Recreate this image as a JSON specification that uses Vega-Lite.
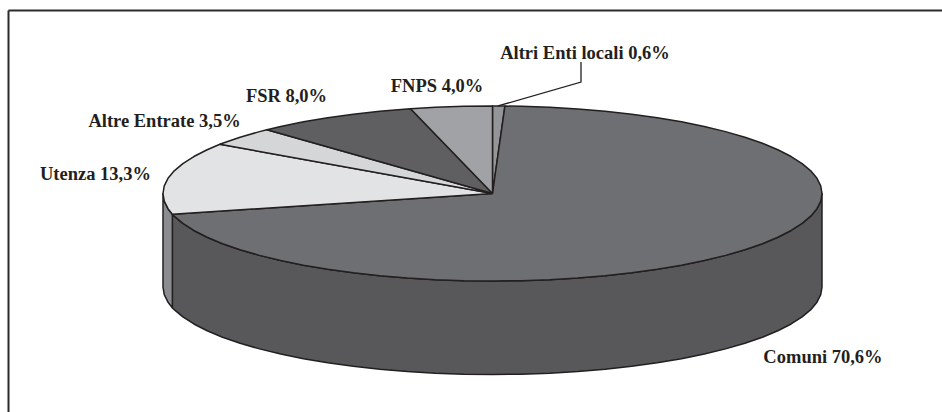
{
"$schema":"https://vega.github.io/schema/vega-lite/v6.json",
"width":934,"height":402,
"autosize":{"type":"none"},
"padding":{"left":8,"top":10,"right":0,"bottom":0},
"background":"#ffffff",
"config":{"view":{"stroke":null}},
"datasets":{
"walls":[
{"slice":"Comuni lato","x":1,"y":0,"y2":-1.0686},{"slice":"Comuni lato","x":0.9962,"y":-0.0872,"y2":-1.1558},{"slice":"Comuni lato","x":0.9848,"y":-0.1736,"y2":-1.2422},{"slice":"Comuni lato","x":0.9659,"y":-0.2588,"y2":-1.3274},{"slice":"Comuni lato","x":0.9397,"y":-0.342,"y2":-1.4106},{"slice":"Comuni lato","x":0.9063,"y":-0.4226,"y2":-1.4912},{"slice":"Comuni lato","x":0.866,"y":-0.5,"y2":-1.5686},{"slice":"Comuni lato","x":0.8192,"y":-0.5736,"y2":-1.6422},{"slice":"Comuni lato","x":0.766,"y":-0.6428,"y2":-1.7114},{"slice":"Comuni lato","x":0.7071,"y":-0.7071,"y2":-1.7757},{"slice":"Comuni lato","x":0.6428,"y":-0.766,"y2":-1.8346},{"slice":"Comuni lato","x":0.5736,"y":-0.8192,"y2":-1.8878},{"slice":"Comuni lato","x":0.5,"y":-0.866,"y2":-1.9346},{"slice":"Comuni lato","x":0.4226,"y":-0.9063,"y2":-1.9749},{"slice":"Comuni lato","x":0.342,"y":-0.9397,"y2":-2.0083},{"slice":"Comuni lato","x":0.2588,"y":-0.9659,"y2":-2.0345},{"slice":"Comuni lato","x":0.1736,"y":-0.9848,"y2":-2.0534},{"slice":"Comuni lato","x":0.0872,"y":-0.9962,"y2":-2.0648},{"slice":"Comuni lato","x":0,"y":-1,"y2":-2.0686},{"slice":"Comuni lato","x":-0.0872,"y":-0.9962,"y2":-2.0648},{"slice":"Comuni lato","x":-0.1736,"y":-0.9848,"y2":-2.0534},{"slice":"Comuni lato","x":-0.2588,"y":-0.9659,"y2":-2.0345},{"slice":"Comuni lato","x":-0.342,"y":-0.9397,"y2":-2.0083},{"slice":"Comuni lato","x":-0.4226,"y":-0.9063,"y2":-1.9749},{"slice":"Comuni lato","x":-0.5,"y":-0.866,"y2":-1.9346},{"slice":"Comuni lato","x":-0.5736,"y":-0.8192,"y2":-1.8878},{"slice":"Comuni lato","x":-0.6428,"y":-0.766,"y2":-1.8346},{"slice":"Comuni lato","x":-0.7071,"y":-0.7071,"y2":-1.7757},{"slice":"Comuni lato","x":-0.766,"y":-0.6428,"y2":-1.7114},{"slice":"Comuni lato","x":-0.8192,"y":-0.5736,"y2":-1.6422},{"slice":"Comuni lato","x":-0.866,"y":-0.5,"y2":-1.5686},{"slice":"Comuni lato","x":-0.9063,"y":-0.4226,"y2":-1.4912},{"slice":"Comuni lato","x":-0.9397,"y":-0.342,"y2":-1.4106},{"slice":"Comuni lato","x":-0.9659,"y":-0.2588,"y2":-1.3274},{"slice":"Comuni lato","x":-0.9716,"y":-0.2365,"y2":-1.3051},
{"slice":"Utenza lato","x":-0.9716,"y":-0.2365,"y2":-1.3051},{"slice":"Utenza lato","x":-0.9848,"y":-0.1736,"y2":-1.2422},{"slice":"Utenza lato","x":-0.9962,"y":-0.0872,"y2":-1.1558},{"slice":"Utenza lato","x":-1,"y":0,"y2":-1.0686}
],
"tops":[
{"slice":"Altri Enti locali","angle":-1,"x":0,"y":0},{"slice":"Altri Enti locali","angle":0,"x":0,"y":1},{"slice":"Altri Enti locali","angle":2.16,"x":0.0377,"y":0.9993},{"slice":"Altri Enti locali","angle":400,"x":0,"y":0},
{"slice":"Comuni","angle":-1,"x":0,"y":0},{"slice":"Comuni","angle":2.16,"x":0.0377,"y":0.9993},{"slice":"Comuni","angle":5,"x":0.0872,"y":0.9962},{"slice":"Comuni","angle":10,"x":0.1736,"y":0.9848},{"slice":"Comuni","angle":15,"x":0.2588,"y":0.9659},{"slice":"Comuni","angle":20,"x":0.342,"y":0.9397},{"slice":"Comuni","angle":25,"x":0.4226,"y":0.9063},{"slice":"Comuni","angle":30,"x":0.5,"y":0.866},{"slice":"Comuni","angle":35,"x":0.5736,"y":0.8192},{"slice":"Comuni","angle":40,"x":0.6428,"y":0.766},{"slice":"Comuni","angle":45,"x":0.7071,"y":0.7071},{"slice":"Comuni","angle":50,"x":0.766,"y":0.6428},{"slice":"Comuni","angle":55,"x":0.8192,"y":0.5736},{"slice":"Comuni","angle":60,"x":0.866,"y":0.5},{"slice":"Comuni","angle":65,"x":0.9063,"y":0.4226},{"slice":"Comuni","angle":70,"x":0.9397,"y":0.342},{"slice":"Comuni","angle":75,"x":0.9659,"y":0.2588},{"slice":"Comuni","angle":80,"x":0.9848,"y":0.1736},{"slice":"Comuni","angle":85,"x":0.9962,"y":0.0872},{"slice":"Comuni","angle":90,"x":1,"y":0},{"slice":"Comuni","angle":95,"x":0.9962,"y":-0.0872},{"slice":"Comuni","angle":100,"x":0.9848,"y":-0.1736},{"slice":"Comuni","angle":105,"x":0.9659,"y":-0.2588},{"slice":"Comuni","angle":110,"x":0.9397,"y":-0.342},{"slice":"Comuni","angle":115,"x":0.9063,"y":-0.4226},{"slice":"Comuni","angle":120,"x":0.866,"y":-0.5},{"slice":"Comuni","angle":125,"x":0.8192,"y":-0.5736},{"slice":"Comuni","angle":130,"x":0.766,"y":-0.6428},{"slice":"Comuni","angle":135,"x":0.7071,"y":-0.7071},{"slice":"Comuni","angle":140,"x":0.6428,"y":-0.766},{"slice":"Comuni","angle":145,"x":0.5736,"y":-0.8192},{"slice":"Comuni","angle":150,"x":0.5,"y":-0.866},{"slice":"Comuni","angle":155,"x":0.4226,"y":-0.9063},{"slice":"Comuni","angle":160,"x":0.342,"y":-0.9397},{"slice":"Comuni","angle":165,"x":0.2588,"y":-0.9659},{"slice":"Comuni","angle":170,"x":0.1736,"y":-0.9848},{"slice":"Comuni","angle":175,"x":0.0872,"y":-0.9962},{"slice":"Comuni","angle":180,"x":0,"y":-1},{"slice":"Comuni","angle":185,"x":-0.0872,"y":-0.9962},{"slice":"Comuni","angle":190,"x":-0.1736,"y":-0.9848},{"slice":"Comuni","angle":195,"x":-0.2588,"y":-0.9659},{"slice":"Comuni","angle":200,"x":-0.342,"y":-0.9397},{"slice":"Comuni","angle":205,"x":-0.4226,"y":-0.9063},{"slice":"Comuni","angle":210,"x":-0.5,"y":-0.866},{"slice":"Comuni","angle":215,"x":-0.5736,"y":-0.8192},{"slice":"Comuni","angle":220,"x":-0.6428,"y":-0.766},{"slice":"Comuni","angle":225,"x":-0.7071,"y":-0.7071},{"slice":"Comuni","angle":230,"x":-0.766,"y":-0.6428},{"slice":"Comuni","angle":235,"x":-0.8192,"y":-0.5736},{"slice":"Comuni","angle":240,"x":-0.866,"y":-0.5},{"slice":"Comuni","angle":245,"x":-0.9063,"y":-0.4226},{"slice":"Comuni","angle":250,"x":-0.9397,"y":-0.342},{"slice":"Comuni","angle":255,"x":-0.9659,"y":-0.2588},{"slice":"Comuni","angle":256.32,"x":-0.9716,"y":-0.2365},{"slice":"Comuni","angle":400,"x":0,"y":0},
{"slice":"Utenza","angle":-1,"x":0,"y":0},{"slice":"Utenza","angle":256.32,"x":-0.9716,"y":-0.2365},{"slice":"Utenza","angle":260,"x":-0.9848,"y":-0.1736},{"slice":"Utenza","angle":265,"x":-0.9962,"y":-0.0872},{"slice":"Utenza","angle":270,"x":-1,"y":0},{"slice":"Utenza","angle":275,"x":-0.9962,"y":0.0872},{"slice":"Utenza","angle":280,"x":-0.9848,"y":0.1736},{"slice":"Utenza","angle":285,"x":-0.9659,"y":0.2588},{"slice":"Utenza","angle":290,"x":-0.9397,"y":0.342},{"slice":"Utenza","angle":295,"x":-0.9063,"y":0.4226},{"slice":"Utenza","angle":300,"x":-0.866,"y":0.5},{"slice":"Utenza","angle":304.2,"x":-0.8271,"y":0.5621},{"slice":"Utenza","angle":400,"x":0,"y":0},
{"slice":"Altre Entrate","angle":-1,"x":0,"y":0},{"slice":"Altre Entrate","angle":304.2,"x":-0.8271,"y":0.5621},{"slice":"Altre Entrate","angle":305,"x":-0.8192,"y":0.5736},{"slice":"Altre Entrate","angle":310,"x":-0.766,"y":0.6428},{"slice":"Altre Entrate","angle":315,"x":-0.7071,"y":0.7071},{"slice":"Altre Entrate","angle":316.8,"x":-0.6845,"y":0.729},{"slice":"Altre Entrate","angle":400,"x":0,"y":0},
{"slice":"FSR","angle":-1,"x":0,"y":0},{"slice":"FSR","angle":316.8,"x":-0.6845,"y":0.729},{"slice":"FSR","angle":320,"x":-0.6428,"y":0.766},{"slice":"FSR","angle":325,"x":-0.5736,"y":0.8192},{"slice":"FSR","angle":330,"x":-0.5,"y":0.866},{"slice":"FSR","angle":335,"x":-0.4226,"y":0.9063},{"slice":"FSR","angle":340,"x":-0.342,"y":0.9397},{"slice":"FSR","angle":345,"x":-0.2588,"y":0.9659},{"slice":"FSR","angle":345.6,"x":-0.2487,"y":0.9686},{"slice":"FSR","angle":400,"x":0,"y":0},
{"slice":"FNPS","angle":-1,"x":0,"y":0},{"slice":"FNPS","angle":345.6,"x":-0.2487,"y":0.9686},{"slice":"FNPS","angle":350,"x":-0.1736,"y":0.9848},{"slice":"FNPS","angle":355,"x":-0.0872,"y":0.9962},{"slice":"FNPS","angle":360,"x":0,"y":1},{"slice":"FNPS","angle":400,"x":0,"y":0}
],
"leader":[{"step":1,"x":0.2686,"y":1.503},{"step":2,"x":0.2686,"y":1.274},{"step":3,"x":0.0167,"y":1}],
"labels":[
{"label":"Altri Enti locali 0,6%","x":0.2807,"y":1.606},
{"label":"FNPS  4,0%","x":-0.1684,"y":1.229},
{"label":"FSR 8,0%","x":-0.6252,"y":1.114},
{"label":"Altre Entrate 3,5%","x":-0.9954,"y":0.8286},
{"label":"Utenza 13,3%","x":-1.2049,"y":0.2229},
{"label":"Comuni 70,6%","x":1.003,"y":-1.8686}
]
},
"layer":[
{"data":{"name":"walls"},
 "mark":{"type":"area","stroke":"#231f20","strokeWidth":1.5,"strokeJoin":"round"},
 "encoding":{
  "x":{"field":"x","type":"quantitative","scale":{"domain":[-1.4704,1.3642],"nice":false,"zero":false},"axis":{"orient":"top","title":null,"grid":false,"ticks":false,"labels":false,"domain":true,"domainColor":"#2b2b2b","domainWidth":2}},
  "y":{"field":"y","type":"quantitative","stack":null,"scale":{"domain":[-2.4971,2.0971],"nice":false,"zero":false},"axis":{"orient":"left","title":null,"grid":false,"ticks":false,"labels":false,"domain":true,"domainColor":"#2b2b2b","domainWidth":2}},
  "y2":{"field":"y2"},
  "fill":{"field":"slice","type":"nominal","legend":null,"scale":{"domain":["Comuni lato","Utenza lato","Comuni","Utenza","Altre Entrate","FSR","FNPS","Altri Enti locali"],"range":["#58585a","#8b8c8f","#6e6f72","#e2e3e5","#d5d6d8","#5f5f62","#a1a2a5","#939598"]}}
 }},
{"data":{"name":"tops"},
 "mark":{"type":"line","stroke":"#231f20","strokeWidth":1.5,"strokeJoin":"round"},
 "encoding":{
  "x":{"field":"x","type":"quantitative"},
  "y":{"field":"y","type":"quantitative"},
  "order":{"field":"angle","type":"quantitative"},
  "fill":{"field":"slice","type":"nominal","legend":null},
  "detail":{"field":"slice","type":"nominal"}
 }},
{"data":{"name":"leader"},
 "mark":{"type":"line","stroke":"#231f20","strokeWidth":1.3},
 "encoding":{
  "x":{"field":"x","type":"quantitative"},
  "y":{"field":"y","type":"quantitative"},
  "order":{"field":"step","type":"quantitative"}
 }},
{"data":{"name":"labels"},
 "mark":{"type":"text","font":"Liberation Serif","fontWeight":"bold","fontSize":18.5,"color":"#231f20","align":"center","baseline":"middle"},
 "encoding":{
  "x":{"field":"x","type":"quantitative"},
  "y":{"field":"y","type":"quantitative"},
  "text":{"field":"label","type":"nominal"}
 }}
]
}
